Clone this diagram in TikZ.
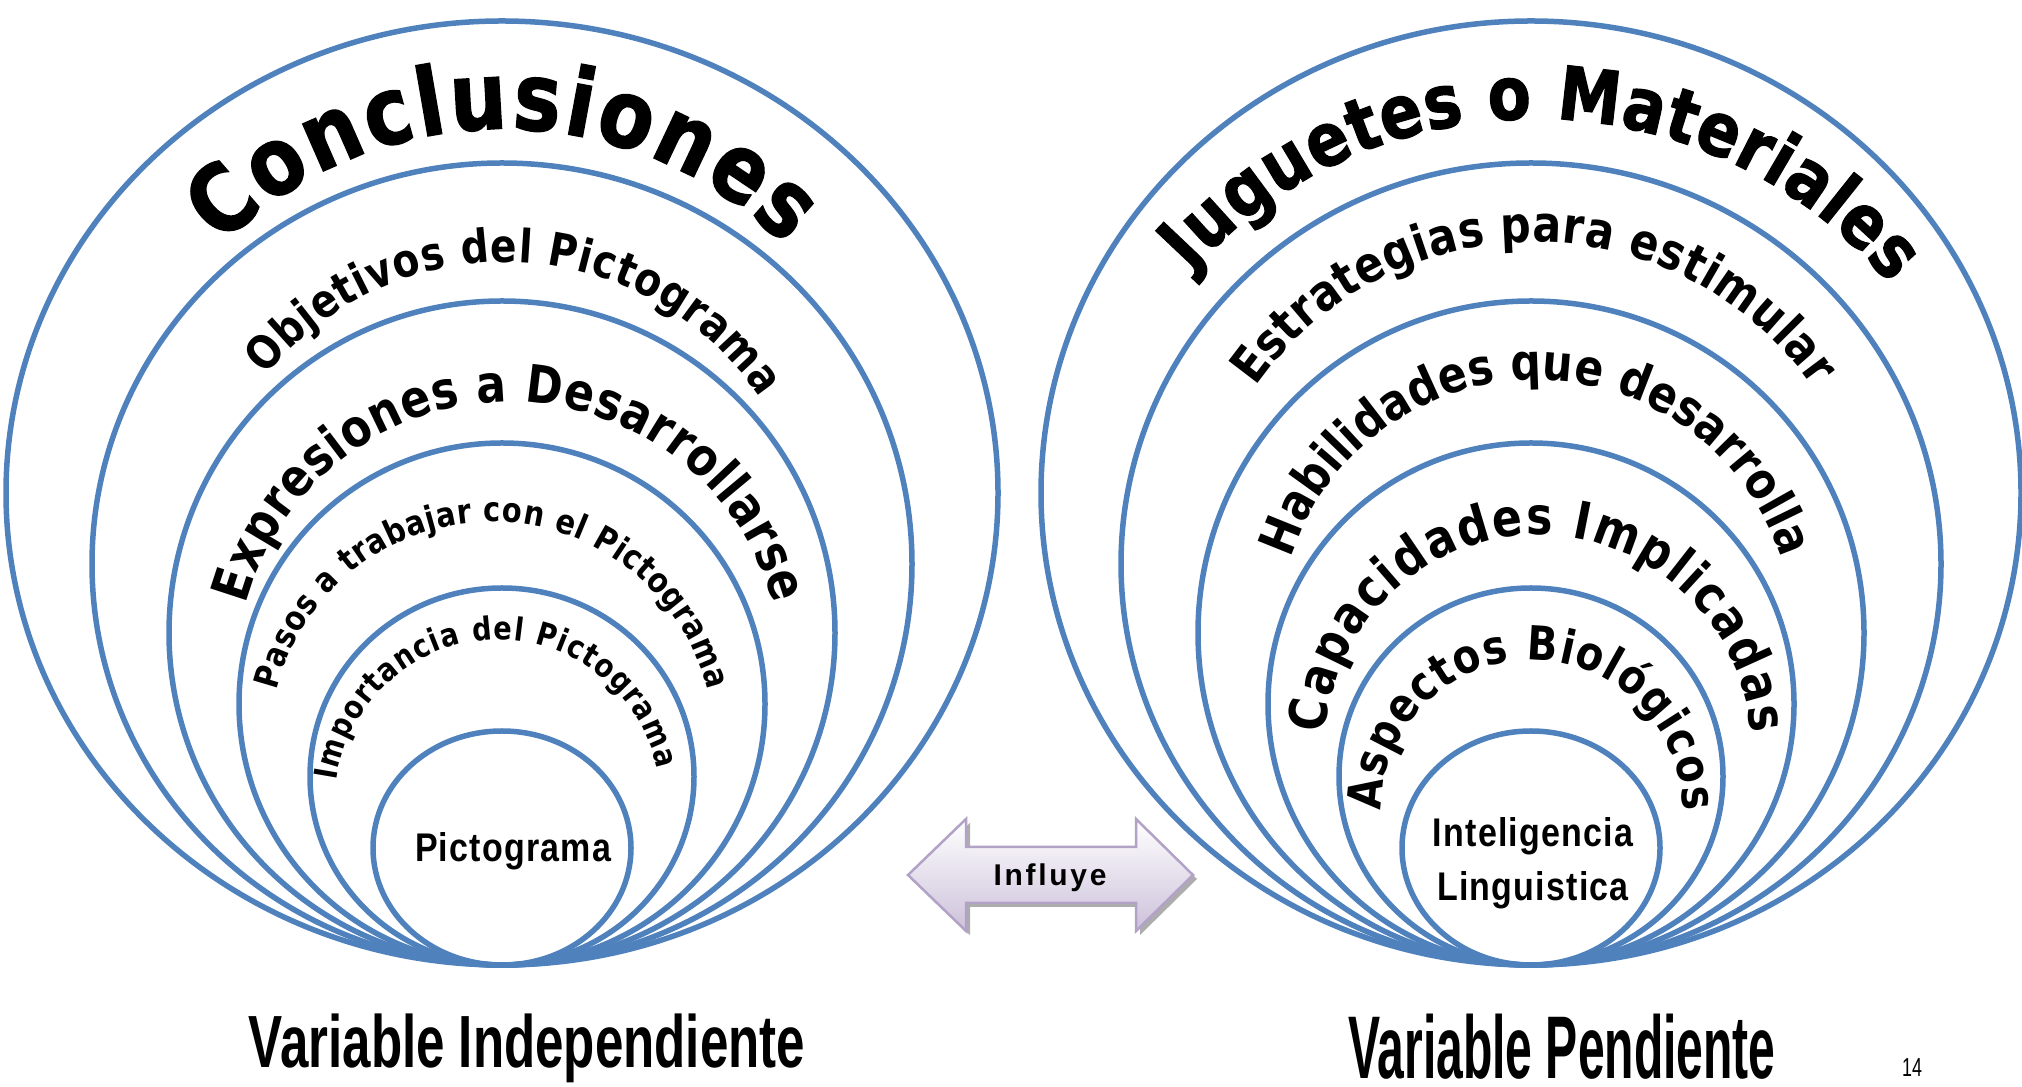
\documentclass[tikz,border=0pt]{standalone}
\usepackage{fontspec}
\setmainfont{Liberation Sans}
\newfontfamily\arcofont{DejaVu Sans}[FakeStretch=0.85]
\newfontfamily\titulofont{DejaVu Sans}[FakeStretch=0.85, FakeBold=1.5]
\newfontfamily\anchofont{Liberation Sans}[FakeStretch=0.85, LetterSpace=3]
\newfontfamily\espaciadofont{Liberation Sans}[LetterSpace=9]
\newfontfamily\estrechofont{Liberation Sans}[FakeStretch=0.69]
\newfontfamily\estrechoBfont{Liberation Sans}[FakeStretch=0.54]
\usetikzlibrary{shapes.geometric,decorations.text,shadows}
\definecolor{anillo}{HTML}{4F81BD}
\definecolor{lila}{HTML}{B3A2C7}
\definecolor{lilaclaro}{HTML}{CCC1DA}
\newcommand\arcsize[1]{\arcofont\bfseries\fontsize{#1}{#1}\selectfont}
\newcommand\titsize[1]{\titulofont\bfseries\fontsize{#1}{#1}\selectfont}
\newcommand\centrosize{\anchofont\bfseries\fontsize{40}{54}\selectfont}

\begin{document}
\begin{tikzpicture}[x=1pt, y=1pt,
    ring/.style={ellipse, draw=anillo, line width=5.5pt, outer sep=0pt, inner sep=0pt, anchor=south},
    arctext/.style={decorate, decoration={text along path, text align=fit to path, text={#1}}}]
  \useasboundingbox (0,0) rectangle (2022,1087);
  \coordinate (izq) at (502,122);
  \coordinate (der) at (1531,122);
  \coordinate (flecha) at (1050,212);

  \node[ring, minimum width=992pt, minimum height=944pt] (conclusiones) at (izq) {};
  \node[ring, minimum width=820pt, minimum height=802pt] (objetivos)    at (izq) {};
  \node[ring, minimum width=666pt, minimum height=664pt] (expresiones)  at (izq) {};
  \node[ring, minimum width=526pt, minimum height=522pt] (pasos)        at (izq) {};
  \node[ring, minimum width=384pt, minimum height=377pt] (importancia)  at (izq) {};
  \node[ring, minimum width=258pt, minimum height=234pt] (pictograma)   at (izq) {};

  \node[ring, minimum width=980pt, minimum height=944pt] (juguetes)     at (der) {};
  \node[ring, minimum width=820pt, minimum height=802pt] (estrategias)  at (der) {};
  \node[ring, minimum width=666pt, minimum height=664pt] (habilidades)  at (der) {};
  \node[ring, minimum width=526pt, minimum height=522pt] (capacidades)  at (der) {};
  \node[ring, minimum width=384pt, minimum height=377pt] (aspectos)     at (der) {};
  \node[ring, minimum width=258pt, minimum height=234pt] (inteligencia) at (der) {};

  \path[arctext={|\titsize{94}|Conclusiones}] ([shift={(1,438)}]izq) ++(135:398pt) arc[start angle=135, end angle=45, radius=398pt];
  \path[arctext={|\arcsize{46}|Objetivos del Pictograma}] ([shift={(3,395)}]izq) ++(141:308pt) arc[start angle=141, end angle=34, radius=308pt];
  \path[arctext={|\arcsize{52}|Expresiones a Desarrollarse}] ([shift={(8,290)}]izq) ++(165:273pt) arc[start angle=165, end angle=15, radius=273pt];
  \path[arctext={|\arcsize{34}|Pasos a trabajar con el Pictograma}] ([shift={(-10,221)}]izq) ++(166:222pt) arc[start angle=166, end angle=14, radius=222pt];
  \path[arctext={|\arcsize{32}|Importancia del Pictograma}] ([shift={(-4,162)}]izq) ++(172:163pt) arc[start angle=172, end angle=12, radius=163pt];

  \path[arctext={|\titsize{74}|Juguetes o Materiales}] ([shift={(4,383)}]der) ++(138:463pt) arc[start angle=138, end angle=40, radius=463pt];
  \path[arctext={|\arcsize{50}|Estrategias para estimular}] ([shift={(3,383)}]der) ++(145:340pt) arc[start angle=145, end angle=35, radius=340pt];
  \path[arctext={|\arcsize{50}|Habilidades que desarrolla}] ([shift={(5,327)}]der) ++(162:258pt) arc[start angle=162, end angle=18, radius=258pt];
  \path[arctext={|\arcsize{52}|Capacidades Implicadas}] ([shift={(7,217)}]der) ++(176:213pt) arc[start angle=176, end angle=4, radius=213pt];
  \path[arctext={|\arcsize{47}|Aspectos Biológicos}] ([shift={(1,154)}]der) ++(180:151pt) arc[start angle=180, end angle=0, radius=151pt];

  \node[font=\centrosize] (pictotxt) at ([shift={(11,114)}]izq) {Pictograma};
  \node[font=\centrosize, align=center] (intetxt) at ([shift={(2,102)}]der) {Inteligencia\\Linguistica};

  \begin{scope}[shift={(flecha)}]
    \draw[line width=2.5pt, draw=lila, top color=white, bottom color=lilaclaro,
      drop shadow={shadow xshift=4pt, shadow yshift=-4pt, fill=black!40, opacity=.8}]
      (-142,0) -- (-84,56) -- (-84,28) -- (86,28) -- (86,56) -- (143,0)
      -- (86,-56) -- (86,-28) -- (-84,-28) -- (-84,-56) -- cycle;
  \end{scope}
  \node[font=\espaciadofont\bfseries\fontsize{30}{30}\selectfont] (influye) at ([shift={(0,-3)}]flecha) {Influye};

  \node[anchor=base, font=\estrechofont\bfseries\fontsize{74}{74}\selectfont] (vind) at (527,19) {Variable Independiente};
  \node[anchor=base, inner sep=0pt, font=\estrechoBfont\bfseries\fontsize{89}{89}\selectfont] (vdep) at (1562,8) {Variable Pendiente};
  \node[anchor=base, font=\estrechofont\fontsize{26}{26}\selectfont] (pagina) at (1912,10) {14};
\end{tikzpicture}
\end{document}
